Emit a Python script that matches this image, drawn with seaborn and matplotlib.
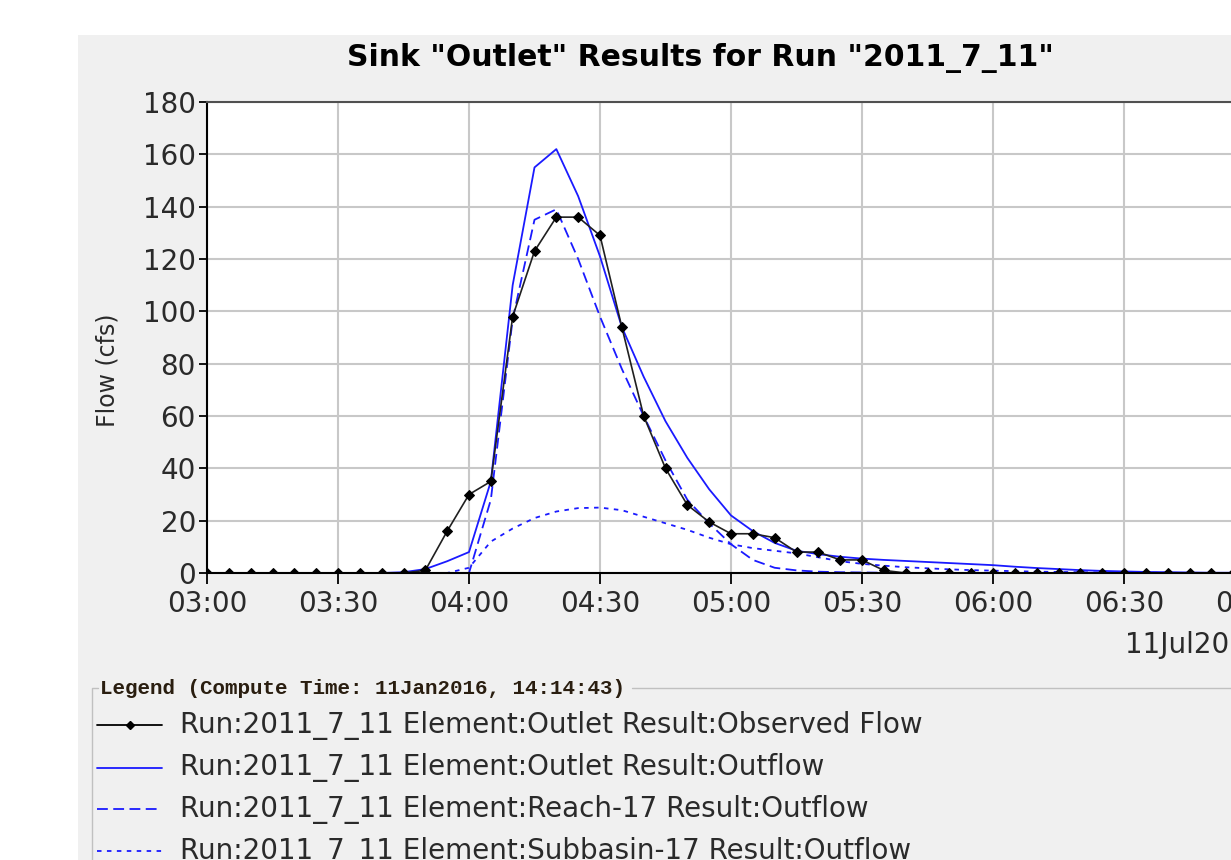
import matplotlib
matplotlib.use("Agg")
import matplotlib.pyplot as plt
import matplotlib.dates as mdates
from matplotlib.lines import Line2D
from matplotlib.patches import Rectangle
import pandas as pd
import seaborn as sns

# 5-minute time steps, 03:00 -> 07:30
times = pd.date_range("2011-07-11 03:00", "2011-07-11 07:30", freq="5min")

observed = [0, 0, 0, 0, 0, 0, 0, 0, 0, 0,
            1, 16, 30, 35, 98, 123, 136, 136, 129, 94, 60, 40, 26, 19.5, 15, 15,
            13.5, 8, 8, 5, 5, 1,
            0, 0, 0, 0, 0, 0, 0, 0, 0, 0, 0, 0, 0, 0, 0, 0, 0, 0, 0, 0, 0, 0, 0]

outlet = [0, 0, 0, 0, 0, 0, 0, 0, 0,
          0.3, 1.5, 4.5, 8, 35, 110, 155, 162, 144, 121, 94, 75, 58, 44, 32, 22,
          16, 11.5, 8.5, 7.2, 6.2, 5.5, 5, 4.6, 4.2, 3.8, 3.4, 3, 2.4, 1.9, 1.5,
          1.1, 0.8, 0.6, 0.4, 0.3, 0.2, 0.1, 0.1, 0.1, 0, 0, 0, 0, 0, 0]

reach = [0, 0, 0, 0, 0, 0, 0, 0, 0, 0, 0, 0, 0,
         28, 97, 135, 139, 120, 98, 78, 60, 43, 28, 19, 11, 5, 2, 1, 0.5, 0.3,
         0.2, 0.1,
         0, 0, 0, 0, 0, 0, 0, 0, 0, 0, 0, 0, 0, 0, 0, 0, 0, 0, 0, 0, 0, 0, 0]

subbasin = [0, 0, 0, 0, 0, 0, 0, 0, 0, 0, 0, 0,
            2, 12, 17, 21, 23.5, 24.8, 25, 24, 21.5, 19, 16.5, 13.5, 11, 9.5,
            8.5, 7.5, 6, 4.5, 3.5, 2.8, 2.2, 1.8, 1.4, 1.1, 0.9, 0.7, 0.5, 0.4,
            0.3, 0.2, 0.2, 0.1, 0.1,
            0, 0, 0, 0, 0, 0, 0, 0, 0, 0]

legend_labels = ["Run:2011_7_11 Element:Outlet Result:Observed Flow",
                 "Run:2011_7_11 Element:Outlet Result:Outflow",
                 "Run:2011_7_11 Element:Reach-17 Result:Outflow",
                 "Run:2011_7_11 Element:Subbasin-17 Result:Outflow"]

sns.set_style("white")
plt.rcParams['font.family'] = ['DejaVu Sans']

W, H = 1231, 860
fig = plt.figure(figsize=(W / 100, H / 100), dpi=100)
fig.patch.set_facecolor("white")
# grey panel behind everything
fig.add_artist(Rectangle((78 / W, 0), 1 - 78 / W, 1 - 35 / H, transform=fig.transFigure,
                         facecolor="#f0f0f0", edgecolor="none", zorder=-10))

ax = fig.add_axes([207 / W, (H - 573) / H, 1179 / W, 471 / H])
ax.set_facecolor("white")

blue = "#1a1aff"
sns.lineplot(x=times, y=subbasin, ax=ax, color=blue, lw=1.3, linestyle=(0, (2.5, 3)))
sns.lineplot(x=times, y=reach, ax=ax, color=blue, lw=1.3, linestyle=(0, (6, 3)))
sns.lineplot(x=times, y=outlet, ax=ax, color=blue, lw=1.3)
sns.lineplot(x=times, y=observed, ax=ax, color="#202020", lw=1.2, marker="D",
             markersize=5.5, markeredgecolor="black", markerfacecolor="black")

ax.set_ylim(0, 180)
ax.set_yticks(range(0, 181, 20))
ax.set_xlim(times[0], times[-1])
ax.xaxis.set_major_locator(mdates.MinuteLocator(byminute=[0, 30]))
ax.xaxis.set_major_formatter(mdates.DateFormatter("%H:%M"))
ax.grid(True, color="#c8c8c8", lw=1.5)
ax.set_axisbelow(True)
ax.spines["right"].set_visible(False)
ax.spines["top"].set_color("#505050")
ax.spines["left"].set_color("black")
ax.spines["bottom"].set_color("black")
for s in ["top", "left", "bottom"]:
    ax.spines[s].set_linewidth(1.5)
ax.tick_params(axis="both", direction="out", length=6, width=1.3, colors="black",
               labelsize=20, labelcolor="#2a2a2a", left=True, bottom=True)
ax.tick_params(axis="x", length=8, pad=4)
ax.tick_params(axis="y", pad=2)
ax.set_xlabel("")
ax.set_ylabel("")

fig.text(108 / W, 1 - 370 / H, "Flow (cfs)", rotation=90, ha="center", va="center",
         fontsize=17, color="#2a2a2a")
fig.text(700 / W, 1 - 58 / H, 'Sink "Outlet" Results for Run "2011_7_11"',
         ha="center", va="center", fontsize=21.5, fontweight="bold", color="black")
fig.text(1125 / W, 1 - 645 / H, "11Jul2011", ha="left", va="center",
         fontsize=20, color="#2a2a2a")

# legend block
fig.add_artist(Line2D([92 / W, 92 / W, 98 / W], [0, 1 - 688 / H, 1 - 688 / H],
                      transform=fig.transFigure, color="#c0c0c0", lw=1))
fig.add_artist(Line2D([632 / W, 1], [1 - 688 / H, 1 - 688 / H],
                      transform=fig.transFigure, color="#c0c0c0", lw=1))
fig.text(100 / W, 1 - 688 / H, "Legend (Compute Time: 11Jan2016, 14:14:43)",
         ha="left", va="center", fontsize=15, fontweight="bold",
         family="Liberation Mono", color="#2a1e10")

styles = [dict(color="black", ls="-", marker="D", markersize=4, markevery=[1]),
          dict(color=blue, ls="-"),
          dict(color=blue, ls=(0, (6, 3))),
          dict(color=blue, ls=(0, (2.5, 3)))]
rows = [725, 768, 809, 851]
for label, st, yy in zip(legend_labels, styles, rows):
    y = 1 - yy / H
    fig.add_artist(Line2D([97 / W, 130 / W, 162 / W], [y, y, y], transform=fig.transFigure,
                          lw=1.3, **st))
    fig.text(180 / W, y, label, ha="left", va="center", fontsize=20, color="#2a2a2a")

fig.savefig("out.png", dpi=100)
